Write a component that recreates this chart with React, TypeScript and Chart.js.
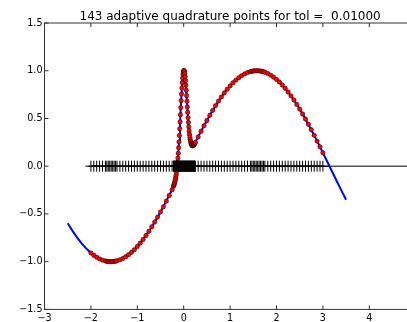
import { useEffect, useRef } from "react";
import { Chart, registerables } from "chart.js";
Chart.register(...registerables);

const titleText = "143 adaptive quadrature points for tol =  0.01000";

// adaptive quadrature nodes
const quadX = [
  -2, -1.9375, -1.875, -1.8125, -1.75, -1.6875,
  -1.65625, -1.625, -1.59375, -1.5625, -1.53125, -1.5, -1.46875, -1.4375,
  -1.375, -1.3125, -1.25, -1.1875, -1.125, -1.0625, -1, -0.9375, -0.875, -0.8125,
  -0.75, -0.6875, -0.625, -0.5625, -0.5, -0.4375, -0.375, -0.3125, -0.25,
  -0.21875, -0.2109375, -0.203125, -0.1953125, -0.1875, -0.1796875, -0.171875,
  -0.1640625, -0.15625, -0.1484375, -0.140625, -0.1328125, -0.125, -0.1171875,
  -0.109375, -0.1015625, -0.09375, -0.0859375, -0.078125, -0.0703125, -0.0625,
  -0.0546875, -0.046875, -0.0390625, -0.03125, -0.0234375, -0.015625, -0.0078125, 0,
  0.0078125, 0.015625, 0.0234375, 0.03125, 0.0390625, 0.046875, 0.0546875, 0.0625,
  0.0703125, 0.078125, 0.0859375, 0.09375, 0.1015625, 0.109375, 0.1171875, 0.125,
  0.1328125, 0.140625, 0.1484375, 0.15625, 0.1640625, 0.171875, 0.1796875, 0.1875,
  0.1953125, 0.203125, 0.2109375, 0.21875, 0.2265625, 0.234375, 0.2421875, 0.25,
  0.3125, 0.375, 0.4375, 0.5, 0.5625, 0.625, 0.6875, 0.75, 0.8125, 0.875, 0.9375, 1,
  1.0625, 1.125, 1.1875, 1.25, 1.3125, 1.375, 1.4375,
  1.46875, 1.5, 1.53125, 1.5625, 1.59375, 1.625, 1.65625, 1.6875, 1.71875, 1.75,
  1.8125, 1.875, 1.9375, 2, 2.0625, 2.125, 2.1875, 2.25, 2.3125, 2.375, 2.4375, 2.5,
  2.5625, 2.625, 2.6875, 2.75, 2.8125, 2.875, 2.9375, 3,
];

// function values at the nodes
const quadY = [
  -0.909, -0.933, -0.954, -0.971, -0.984, -0.993,
  -0.996, -0.999, -1.0, -1.0, -0.999, -0.997, -0.995, -0.991,
  -0.981, -0.967, -0.949, -0.927, -0.902, -0.874, -0.841, -0.806, -0.768, -0.726,
  -0.682, -0.635, -0.585, -0.533, -0.479, -0.424, -0.366, -0.307, -0.246,
  -0.209, -0.198, -0.186, -0.172, -0.157, -0.139, -0.119,
  -0.096, -0.069, -0.038, -0.002, 0.039, 0.085, 0.136,
  0.193, 0.255, 0.322, 0.392, 0.465, 0.54, 0.614,
  0.687, 0.756, 0.819, 0.876, 0.923, 0.96, 0.986, 1.0,
  1.002, 0.992, 0.97, 0.938, 0.898, 0.85, 0.796, 0.739,
  0.68, 0.621, 0.564, 0.509, 0.458, 0.412, 0.37, 0.334,
  0.304, 0.279, 0.258, 0.243, 0.231, 0.223, 0.218, 0.216,
  0.216, 0.218, 0.221, 0.225, 0.231, 0.236, 0.243, 0.249,
  0.307, 0.366, 0.424, 0.479, 0.533, 0.585, 0.635, 0.682, 0.726, 0.768, 0.806, 0.841,
  0.874, 0.902, 0.927, 0.949, 0.967, 0.981, 0.991,
  0.995, 0.997, 0.999, 1.0, 1.0, 0.999, 0.996, 0.993, 0.989, 0.984,
  0.971, 0.954, 0.933, 0.909, 0.882, 0.85, 0.816, 0.778, 0.737, 0.694, 0.647, 0.598,
  0.547, 0.494, 0.439, 0.382, 0.323, 0.263, 0.203, 0.141,
];

// the smooth curve
const curveX = [
  -2.5, -2.4, -2.3, -2.2, -2.1, -2.0, -1.9, -1.8, -1.7, -1.6, -1.5, -1.4, -1.3, -1.2,
  -1.1, -1.0, -0.9, -0.8, -0.7, -0.6, -0.5, -0.4,
  -0.3, -0.28, -0.26, -0.24, -0.22, -0.2, -0.18, -0.16, -0.14, -0.12, -0.1, -0.08,
  -0.06, -0.04, -0.02, 0, 0.02, 0.04, 0.06, 0.08, 0.1, 0.12, 0.14, 0.16, 0.18, 0.2,
  0.22, 0.24, 0.26, 0.28, 0.3,
  0.4, 0.5, 0.6, 0.7, 0.8, 0.9, 1.0, 1.1, 1.2, 1.3, 1.4, 1.5, 1.6, 1.7, 1.8, 1.9,
  2.0, 2.1, 2.2, 2.3, 2.4, 2.5, 2.6, 2.7, 2.8, 2.9, 3.0, 3.1, 3.2, 3.3, 3.4, 3.5,
];
const curveY = [
  -0.598, -0.675, -0.746, -0.808, -0.863, -0.909, -0.946, -0.974, -0.992, -1.0, -0.997,
  -0.985, -0.964, -0.932, -0.891, -0.841, -0.783, -0.717, -0.644, -0.565, -0.479, -0.389,
  -0.295, -0.276, -0.256, -0.235, -0.21, -0.18, -0.14, -0.082, 0.001, 0.117, 0.268, 0.447,
  0.638, 0.812, 0.941, 1.0, 0.981, 0.892, 0.758, 0.607, 0.468, 0.357, 0.28, 0.237, 0.218,
  0.217, 0.226, 0.241, 0.258, 0.277, 0.296,
  0.389, 0.479, 0.565, 0.644, 0.717, 0.783, 0.841, 0.891, 0.932, 0.964, 0.985, 0.997,
  1.0, 0.992, 0.974, 0.946, 0.909, 0.863, 0.808, 0.746, 0.675, 0.598, 0.516, 0.427,
  0.335, 0.239, 0.141, 0.042, -0.058, -0.158, -0.256, -0.351,
];

// horizontal reference line
const baseX = [-2, 5];
const baseY = [0, 0];

const xRange = [-3, 5];
const yRange = [-1.5, 1.5];

const fmt = (v: number, d: number) => (v < 0 ? "\u2212" : "") + Math.abs(v).toFixed(d);

export default function App() {
  const ref = useRef<HTMLCanvasElement>(null);
  useEffect(() => {
    if (!ref.current) return;
    const framePlugin = {
      id: "frame",
      afterDatasetsDraw(chart: any) {
        const { ctx, chartArea: a, scales } = chart;
        ctx.save();
        ctx.strokeStyle = "#333";
        ctx.lineWidth = 1;
        ctx.strokeRect(a.left, a.top, a.right - a.left, a.bottom - a.top);
        ctx.beginPath();
        const xs = scales.x;
        const ys = scales.y;
        xs.ticks.forEach((t: any) => {
          const px = xs.getPixelForValue(t.value);
          ctx.moveTo(px, a.bottom);
          ctx.lineTo(px, a.bottom - 4);
          ctx.moveTo(px, a.top);
          ctx.lineTo(px, a.top + 4);
        });
        ys.ticks.forEach((t: any) => {
          const py = ys.getPixelForValue(t.value);
          ctx.moveTo(a.left, py);
          ctx.lineTo(a.left + 4, py);
          ctx.moveTo(a.right, py);
          ctx.lineTo(a.right - 4, py);
        });
        ctx.stroke();
        ctx.fillStyle = "#000";
        ctx.font = "12px 'DejaVu Sans'";
        ctx.textAlign = "center";
        ctx.textBaseline = "alphabetic";
        ctx.fillText(titleText, (a.left + a.right) / 2, 19.5);
        ctx.restore();
      },
    };
    const chart = new Chart(ref.current, {
      type: "scatter",
      data: {
        datasets: [
          {
            label: "nodes",
            data: quadX.map((x) => ({ x, y: 0 })),
            pointStyle: "cross",
            pointRadius: 5.5,
            borderColor: "#000",
            backgroundColor: "#000",
            borderWidth: 1,
            showLine: false,
            order: 0,
          },
          {
            label: "values",
            data: quadX.map((x, i) => ({ x, y: quadY[i] })),
            pointStyle: "circle",
            pointRadius: 2.2,
            backgroundColor: "#ff0000",
            borderColor: "#000",
            borderWidth: 0.5,
            showLine: false,
            order: 1,
          },
          {
            label: "f",
            data: curveX.map((x, i) => ({ x, y: curveY[i] })),
            showLine: true,
            pointRadius: 0,
            borderColor: "#0000ff",
            borderWidth: 2,
            order: 2,
          },
          {
            label: "base",
            data: baseX.map((x, i) => ({ x, y: baseY[i] })),
            showLine: true,
            pointRadius: 0,
            borderColor: "#000",
            borderWidth: 1,
            order: 3,
          },
        ],
      },
      options: {
        animation: false,
        responsive: false,
        events: [],
        layout: { padding: { left: 0, top: 23, right: 14.3, bottom: 0 } },
        plugins: { legend: { display: false }, tooltip: { enabled: false }, title: { display: false } },
        scales: {
          x: {
            type: "linear",
            min: xRange[0],
            max: xRange[1],
            ticks: {
              stepSize: 1,
              autoSkip: false,
              maxRotation: 0,
              padding: 3,
              color: "#000",
              font: { family: "DejaVu Sans", size: 9.6 },
              callback: (v: any) => fmt(Number(v), 0),
            },
            grid: { display: false, drawTicks: false },
            border: { display: false },
            afterFit: (s: any) => {
              s.height = 12.6;
            },
          },
          y: {
            type: "linear",
            min: yRange[0],
            max: yRange[1],
            ticks: {
              stepSize: 0.5,
              autoSkip: false,
              padding: 2,
              color: "#000",
              font: { family: "DejaVu Sans", size: 9.6 },
              callback: (v: any) => fmt(Number(v), 1),
            },
            grid: { display: false, drawTicks: false },
            border: { display: false },
            afterFit: (s: any) => {
              s.width = 44.5;
            },
          },
        },
      },
      plugins: [framePlugin],
    });
    return () => chart.destroy();
  }, []);
  return (
    <div
      style={{
        position: "fixed",
        left: 0,
        top: 0,
        width: 407,
        height: 322,
        overflow: "hidden",
        background: "#fff",
      }}
    >
      <canvas ref={ref} width={430} height={322} style={{ display: "block", width: 430, height: 322 }} />
    </div>
  );
}
